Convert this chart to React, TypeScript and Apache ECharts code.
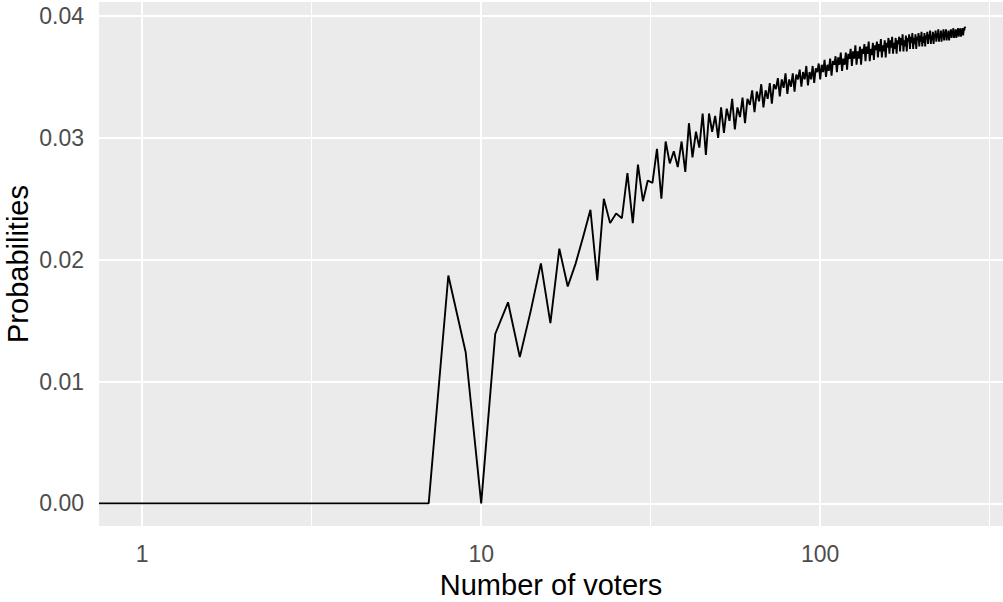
import React, { useEffect, useRef } from "react";
import * as echarts from "echarts";

// Probabilities for n = 1 .. 50 voters
const probSmallN: number[] = [
  0, 0, 0, 0, 0, 0, 0, 0.0187, 0.0124, 0,
  0.0139, 0.0165, 0.012, 0.0158, 0.0197, 0.0148, 0.0209, 0.0178, 0.0197, 0.0219,
  0.0241, 0.0183, 0.025, 0.023, 0.0238, 0.0234, 0.0271, 0.023, 0.0278, 0.0248,
  0.0265, 0.0263, 0.0291, 0.025, 0.0297, 0.0279, 0.0289, 0.0276, 0.0297, 0.0272,
  0.0312, 0.0284, 0.0305, 0.0292, 0.032, 0.0286, 0.032, 0.0305, 0.0318, 0.03,
];

const probLargeN: number[] = [
  0.0325, 0.0304, 0.0324, 0.0314, 0.0332, 0.0307, 0.0325, 0.0317, 0.0333, 0.0312,
  0.0332, 0.0327, 0.0339, 0.0321, 0.0338, 0.033, 0.0344, 0.0325, 0.0339, 0.0332,
  0.0345, 0.0328, 0.0344, 0.034, 0.0349, 0.0334, 0.0348, 0.0341, 0.0353, 0.0336,
  0.0348, 0.0342, 0.0353, 0.0338, 0.0352, 0.0348, 0.0356, 0.0342, 0.0354, 0.0348,
  0.0359, 0.0343, 0.0354, 0.0348, 0.0359, 0.0345, 0.0357, 0.0354, 0.0361, 0.0348,
  0.036, 0.0354, 0.0364, 0.035, 0.036, 0.0355, 0.0365, 0.0351, 0.0363, 0.036,
  0.0367, 0.0354, 0.0366, 0.036, 0.037, 0.0355, 0.0365, 0.036, 0.037, 0.0356,
  0.0369, 0.0365, 0.0373, 0.0359, 0.0371, 0.0365, 0.0376, 0.036, 0.0371, 0.0365,
  0.0375, 0.036, 0.0373, 0.0369, 0.0377, 0.0363, 0.0375, 0.0369, 0.0379, 0.0363,
  0.0373, 0.0368, 0.0378, 0.0364, 0.0376, 0.0372, 0.0379, 0.0366, 0.0377, 0.0371,
  0.0381, 0.0366, 0.0376, 0.0371, 0.038, 0.0366, 0.0378, 0.0374, 0.0382, 0.0369,
  0.038, 0.0374, 0.0383, 0.0369, 0.0378, 0.0373, 0.0382, 0.0369, 0.038, 0.0377,
  0.0383, 0.0371, 0.0382, 0.0376, 0.0385, 0.0371, 0.038, 0.0375, 0.0384, 0.0371,
  0.0382, 0.0379, 0.0385, 0.0373, 0.0383, 0.0378, 0.0386, 0.0373, 0.0382, 0.0377,
  0.0385, 0.0373, 0.0383, 0.038, 0.0386, 0.0375, 0.0384, 0.0379, 0.0387, 0.0375,
  0.0383, 0.0378, 0.0386, 0.0375, 0.0384, 0.0381, 0.0387, 0.0377, 0.0385, 0.0381,
  0.0388, 0.0377, 0.0384, 0.038, 0.0387, 0.0377, 0.0385, 0.0383, 0.0388, 0.0379,
  0.0386, 0.0382, 0.0389, 0.0379, 0.0385, 0.0382, 0.0388, 0.0379, 0.0386, 0.0384,
  0.0389, 0.038, 0.0387, 0.0383, 0.0389, 0.038, 0.0386, 0.0383, 0.0388, 0.038,
  0.0387, 0.0385, 0.0389, 0.0382, 0.0388, 0.0384, 0.039, 0.0382, 0.0387, 0.0384,
  0.0389, 0.0382, 0.0388, 0.0386, 0.039, 0.0383, 0.0389, 0.0386, 0.039, 0.0383,
  0.0388, 0.0386, 0.039, 0.0384, 0.0389, 0.0388, 0.0391, 0.039,
];

const probabilities: number[] = [...probSmallN, ...probLargeN];
const voters: number[] = probabilities.map((_, i) => i + 1);

// Axis ticks (x in voters, drawn on a log10 scale)
const xTickVoters = [1, 10, 100];
const xMinorVoters = [3.1623, 31.623, 316.23];
const yTicks = [0, 0.01, 0.02, 0.03, 0.04];
const yMinor = [0.005, 0.015, 0.025, 0.035];

// Axis extents (ggplot-style expansion), x in log10 units
const X_LOG_MIN = -0.1274;
const X_LOG_MAX = 2.5392;
const Y_MIN = -0.00186;
const Y_MAX = 0.04115;

const FONT = "'Liberation Sans', Arial, sans-serif";

export default function App() {
  const ref = useRef<HTMLDivElement>(null);

  useEffect(() => {
    if (!ref.current) return;
    const chart = echarts.init(ref.current, null, { renderer: "svg" });

    // n = 0 sits at -Inf on a log scale, which ggplot clamps to the panel edge
    const lineData: number[][] = [[X_LOG_MIN, 0]];
    voters.forEach((n, i) => lineData.push([Math.log10(n), probabilities[i]]));

    const major = { color: "#FFFFFF", width: 2, type: "solid" as const };
    const minor = { color: "#FFFFFF", width: 1, type: "solid" as const };
    const gridLines: any[] = [
      ...xTickVoters.map((v) => ({ xAxis: Math.log10(v), lineStyle: major })),
      ...xMinorVoters.map((v) => ({ xAxis: Math.log10(v), lineStyle: minor })),
      ...yTicks.map((v) => ({ yAxis: v, lineStyle: major })),
      ...yMinor.map((v) => ({ yAxis: v, lineStyle: minor })),
    ];

    const tickFont = { color: "#4D4D4D", fontSize: 23, fontFamily: FONT };
    const titleFont = { color: "#000000", fontSize: 29, fontFamily: FONT };

    chart.setOption({
      animation: false,
      grid: {
        left: 99,
        right: 0,
        top: 2,
        bottom: 76,
        show: true,
        containLabel: false,
        outerBoundsMode: "none",
        backgroundColor: "#EBEBEB",
        borderWidth: 0,
      },
      xAxis: {
        type: "value",
        min: X_LOG_MIN,
        max: X_LOG_MAX,
        axisLine: { show: false },
        splitLine: { show: false },
        axisTick: {
          show: true,
          length: 7,
          customValues: xTickVoters.map((v) => Math.log10(v)),
          lineStyle: { color: "#333333", width: 1.5 },
        },
        axisLabel: {
          ...tickFont,
          margin: 16,
          customValues: xTickVoters.map((v) => Math.log10(v)),
          formatter: (v: number) => String(Math.round(Math.pow(10, v))),
        },
        name: "Number of voters",
        nameLocation: "middle",
        nameGap: 44,
        nameMoveOverlap: false,
        nameTextStyle: titleFont,
      },
      yAxis: {
        type: "value",
        min: Y_MIN,
        max: Y_MAX,
        axisLine: { show: false },
        splitLine: { show: false },
        axisTick: {
          show: true,
          length: 7,
          customValues: yTicks,
          lineStyle: { color: "#333333", width: 1.5 },
        },
        axisLabel: {
          ...tickFont,
          margin: 15,
          customValues: yTicks,
          formatter: (v: number) => v.toFixed(2),
        },
        name: "Probabilities",
        nameLocation: "middle",
        nameGap: 67,
        nameMoveOverlap: false,
        nameRotate: 90,
        nameTextStyle: titleFont,
      },
      series: [
        {
          type: "line",
          data: lineData,
          showSymbol: false,
          symbol: "none",
          z: 3,
          lineStyle: { color: "#000000", width: 1.9 },
          emphasis: { disabled: true },
          markLine: {
            z: 1,
            silent: true,
            symbol: ["none", "none"],
            label: { show: false },
            emphasis: { disabled: true },
            data: gridLines,
          },
        },
      ],
    });

    return () => chart.dispose();
  }, []);

  return (
    <div
      ref={ref}
      style={{ position: "absolute", left: 0, top: 0, width: 1003, height: 602, background: "#FFFFFF" }}
    />
  );
}
